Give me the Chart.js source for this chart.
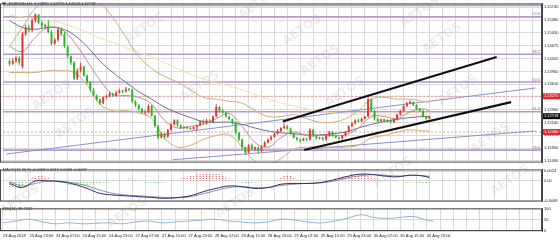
<!DOCTYPE html>
<html lang="en">
<head>
<meta charset="UTF-8">
<title>EURUSD,H1</title>
<style>
  html, body { margin: 0; padding: 0; background: #ffffff; }
  #wrap { position: relative; width: 560px; height: 240px; overflow: hidden; }
  #wrap canvas { position: absolute; left: 0; }
</style>
<script src="https://cdn.jsdelivr.net/npm/chart.js"></script>
</head>
<body>
<div id="wrap">
  <canvas id="main" width="560" height="166" style="top:0px"></canvas>
  <canvas id="macd" width="560" height="39" style="top:166px"></canvas>
  <canvas id="rsi" width="560" height="35" style="top:205px"></canvas>
</div>
<script>
// hourly candles, left to right
const open = [1.1425,1.1417,1.1425,1.1433,1.1409,1.1499,1.1518,1.1510,1.1537,1.1553,
  1.1531,1.1521,1.1523,1.1505,1.1473,1.1484,1.1513,1.1499,1.1465,1.1438,
  1.1420,1.1377,1.1398,1.1409,1.1385,1.1366,1.1345,1.1329,1.1319,1.1308,
  1.1324,1.1327,1.1335,1.1329,1.1337,1.1343,1.1340,1.1348,1.1345,1.1313,
  1.1303,1.1292,1.1281,1.1284,1.1300,1.1273,1.1244,1.1212,1.1223,1.1215,
  1.1234,1.1249,1.1260,1.1247,1.1239,1.1242,1.1239,1.1236,1.1242,1.1247,
  1.1257,1.1252,1.1260,1.1255,1.1271,1.1297,1.1287,1.1281,1.1271,1.1263,
  1.1255,1.1226,1.1207,1.1186,1.1172,1.1191,1.1180,1.1186,1.1175,1.1188,
  1.1199,1.1207,1.1215,1.1223,1.1231,1.1239,1.1244,1.1236,1.1223,1.1212,
  1.1207,1.1204,1.1210,1.1207,1.1234,1.1218,1.1210,1.1212,1.1207,1.1218,
  1.1228,1.1218,1.1212,1.1210,1.1218,1.1228,1.1244,1.1252,1.1260,1.1257,
  1.1265,1.1271,1.1319,1.1287,1.1265,1.1257,1.1263,1.1257,1.1260,1.1255,
  1.1263,1.1276,1.1287,1.1300,1.1308,1.1311,1.1303,1.1292,1.1287,1.1271,
  1.1265];
const close = [1.1417,1.1425,1.1433,1.1420,1.1499,1.1518,1.1510,1.1537,1.1553,1.1531,
  1.1521,1.1523,1.1505,1.1473,1.1484,1.1513,1.1499,1.1465,1.1438,1.1420,
  1.1377,1.1398,1.1409,1.1385,1.1366,1.1345,1.1329,1.1319,1.1308,1.1324,
  1.1327,1.1335,1.1329,1.1337,1.1343,1.1340,1.1348,1.1345,1.1313,1.1303,
  1.1292,1.1281,1.1284,1.1300,1.1273,1.1244,1.1212,1.1223,1.1215,1.1234,
  1.1249,1.1260,1.1247,1.1239,1.1242,1.1239,1.1236,1.1242,1.1247,1.1257,
  1.1252,1.1260,1.1255,1.1271,1.1297,1.1287,1.1281,1.1271,1.1263,1.1255,
  1.1226,1.1207,1.1186,1.1172,1.1191,1.1180,1.1186,1.1175,1.1188,1.1199,
  1.1207,1.1215,1.1223,1.1231,1.1239,1.1244,1.1236,1.1223,1.1212,1.1207,
  1.1204,1.1210,1.1207,1.1234,1.1218,1.1210,1.1212,1.1207,1.1218,1.1228,
  1.1218,1.1212,1.1210,1.1218,1.1228,1.1244,1.1252,1.1260,1.1257,1.1265,
  1.1271,1.1319,1.1287,1.1265,1.1257,1.1263,1.1257,1.1260,1.1255,1.1263,
  1.1276,1.1287,1.1300,1.1308,1.1311,1.1303,1.1292,1.1287,1.1271,1.1265,
  1.12718];
const high = [1.1430,1.1433,1.1438,1.1438,1.1505,1.1526,1.1526,1.1542,1.1558,1.1555,
  1.1537,1.1529,1.1539,1.1510,1.1489,1.1518,1.1518,1.1505,1.1468,1.1441,
  1.1425,1.1404,1.1420,1.1412,1.1388,1.1369,1.1350,1.1332,1.1321,1.1327,
  1.1332,1.1340,1.1337,1.1343,1.1348,1.1345,1.1353,1.1350,1.1348,1.1316,
  1.1305,1.1295,1.1289,1.1305,1.1303,1.1276,1.1247,1.1228,1.1226,1.1236,
  1.1252,1.1263,1.1263,1.1249,1.1244,1.1244,1.1242,1.1244,1.1249,1.1260,
  1.1263,1.1265,1.1263,1.1273,1.1305,1.1300,1.1292,1.1284,1.1273,1.1265,
  1.1257,1.1228,1.1210,1.1188,1.1194,1.1196,1.1188,1.1188,1.1191,1.1202,
  1.1210,1.1218,1.1226,1.1236,1.1242,1.1252,1.1247,1.1239,1.1226,1.1215,
  1.1210,1.1212,1.1212,1.1239,1.1236,1.1220,1.1215,1.1215,1.1220,1.1231,
  1.1231,1.1220,1.1215,1.1220,1.1231,1.1247,1.1255,1.1263,1.1265,1.1268,
  1.1273,1.1324,1.1321,1.1289,1.1268,1.1265,1.1265,1.1263,1.1263,1.1265,
  1.1279,1.1289,1.1303,1.1311,1.1316,1.1313,1.1305,1.1295,1.1289,1.1273,
  1.1273];
const low = [1.1412,1.1414,1.1420,1.1414,1.1404,1.1494,1.1505,1.1505,1.1531,1.1526,
  1.1515,1.1515,1.1502,1.1468,1.1470,1.1478,1.1494,1.1460,1.1433,1.1414,
  1.1372,1.1372,1.1393,1.1380,1.1361,1.1340,1.1327,1.1313,1.1303,1.1305,
  1.1321,1.1324,1.1324,1.1327,1.1335,1.1335,1.1337,1.1340,1.1308,1.1297,
  1.1287,1.1279,1.1276,1.1279,1.1271,1.1239,1.1207,1.1210,1.1207,1.1212,
  1.1231,1.1247,1.1242,1.1236,1.1236,1.1234,1.1234,1.1234,1.1231,1.1244,
  1.1249,1.1249,1.1252,1.1252,1.1268,1.1281,1.1279,1.1268,1.1260,1.1249,
  1.1220,1.1202,1.1180,1.1164,1.1170,1.1178,1.1175,1.1167,1.1172,1.1186,
  1.1196,1.1204,1.1212,1.1220,1.1228,1.1236,1.1234,1.1220,1.1210,1.1202,
  1.1199,1.1202,1.1202,1.1204,1.1215,1.1207,1.1207,1.1204,1.1204,1.1215,
  1.1215,1.1210,1.1207,1.1207,1.1215,1.1226,1.1242,1.1249,1.1255,1.1255,
  1.1263,1.1268,1.1284,1.1260,1.1252,1.1255,1.1255,1.1255,1.1252,1.1252,
  1.1260,1.1273,1.1284,1.1297,1.1305,1.1300,1.1289,1.1284,1.1268,1.1260,
  1.1263];

// indicator lines, read every 4 bars
const lineIdx = [0,4,8,12,16,20,24,28,32,36,40,44,48,52,56,60,64,68,72,76,80,84,88,92,96,100,104,108,112,116,120,124,128,130];
const maFast = [1.1465,1.1452,1.1491,1.1518,1.1513,1.1478,1.1425,1.1372,1.1332,1.1329,1.1324,1.1305,1.1260,1.1239,1.1244,1.1249,1.1265,1.1279,1.1244,1.1199,1.1186,1.1212,1.1228,1.1218,1.1218,1.1218,1.1220,1.1239,1.1271,1.1271,1.1265,1.1284,1.1292,1.1287];
const maSlow = [1.1537,1.1518,1.1513,1.1518,1.1515,1.1497,1.1465,1.1425,1.1393,1.1366,1.1340,1.1319,1.1297,1.1281,1.1268,1.1257,1.1255,1.1255,1.1249,1.1239,1.1231,1.1226,1.1223,1.1220,1.1220,1.1223,1.1228,1.1239,1.1249,1.1257,1.1263,1.1268,1.1271,1.1271];
const bandUpper = [1.1465,1.1518,1.1571,1.1590,1.1595,1.1593,1.1590,1.1585,1.1545,1.1491,1.1438,1.1404,1.1382,1.1366,1.1345,1.1324,1.1319,1.1313,1.1308,1.1287,1.1271,1.1271,1.1276,1.1265,1.1255,1.1255,1.1265,1.1287,1.1319,1.1324,1.1319,1.1319,1.1313,1.1311];
const bandMid = [1.1553,1.1547,1.1542,1.1537,1.1531,1.1518,1.1505,1.1489,1.1476,1.1462,1.1449,1.1436,1.1420,1.1404,1.1388,1.1375,1.1364,1.1356,1.1345,1.1332,1.1319,1.1308,1.1300,1.1292,1.1287,1.1281,1.1279,1.1276,1.1276,1.1276,1.1276,1.1276,1.1276,1.1276];
const bandLower = [1.1393,1.1393,1.1393,1.1398,1.1398,1.1393,1.1358,1.1305,1.1287,1.1287,1.1281,1.1265,1.1212,1.1186,1.1191,1.1207,1.1218,1.1220,1.1186,1.1146,1.1138,1.1154,1.1180,1.1186,1.1186,1.1186,1.1186,1.1191,1.1212,1.1218,1.1228,1.1234,1.1231,1.1231];

// levels and drawn lines (bar index, price)
const fiboLevels = [1.15793, 1.15474, 1.14437, 1.13665, 1.12841, 1.11777];
const fiboNames = ['', '23.6', '38.2', '50.0', '61.8', '78.6'];
const redLevels = [1.13270, 1.12280];
const lastPrice = 1.12718;
const trendLines = [[-0.9, 1.1167, 162.8, 1.1350], [50.5, 1.1151, 162.8, 1.1231]];
const channelLines = [[84.6, 1.1257, 150.8, 1.1436], [91.2, 1.1178, 155.3, 1.1311]];
const priceTicks = [1.15740, 1.15380, 1.15030, 1.14675, 1.14320, 1.13960, 1.13610, 1.13255, 1.12900, 1.12540, 1.12190, 1.11830, 1.11480];

// MACD(12,26,9)
const macdHist = [-0.0014,-0.0016,-0.0018,-0.0016,-0.0012,-0.0006,
  0.0004,0.0008,0.0010,0.0012,0.0012,0.0010,0.0008,0.0004,
  -0.0002,-0.0004,-0.0006,-0.0008,-0.0010,-0.0010,-0.0012,-0.0012,-0.0012,-0.0010,-0.0010,-0.0008,-0.0008,-0.0006,-0.0006,-0.0004,-0.0004,-0.0004,-0.0002,-0.0002,-0.0002,-0.0002,
  0.0004,0.0006,0.0006,0.0004,
  -0.0002,-0.0002,-0.0004,-0.0004,-0.0004,-0.0006,-0.0006,-0.0004,-0.0004,-0.0002,-0.0002,
  0.0002,0.0004,0.0006,0.0008,0.0010,0.0012,0.0014,0.0016,0.0018,0.0018,0.0020,0.0020,0.0020,0.0018,0.0016,0.0014,0.0010,0.0006,0.0002,
  -0.0002,-0.0004,-0.0004,-0.0006,-0.0006,-0.0004,-0.0004,-0.0004,-0.0002,-0.0002,-0.0002,-0.0002,0.0002,0.0004,
  0.0008,0.0012,0.0014,0.0012,0.0008,0.0004,0.0002,
  0.0002,-0.0002,0.0002,0.0002,-0.0002,0.0002,0.0002,0.0002,-0.0002,0.0004,0.0006,0.0008,0.0010,
  0.0012,0.0014,0.0016,0.0018,0.0020,0.0020,0.0018,0.0014,0.0010,
  0.0006,0.0004,0.0004,0.0002,0.0002,0.0004,0.0004,0.0002,-0.0002,-0.0002,-0.0004,-0.0004,-0.0004,-0.0004,-0.0006,-0.0006,-0.0006,-0.0004];
const macdMain = [-0.0006,-0.0016,0.0000,0.0000,-0.0002,-0.0008,-0.0018,-0.0030,-0.0034,-0.0036,-0.0038,-0.0040,-0.0042,-0.0040,-0.0036,-0.0026,-0.0018,-0.0012,-0.0014,-0.0018,-0.0016,-0.0008,-0.0006,-0.0006,-0.0004,0.0002,0.0010,0.0016,0.0016,0.0012,0.0010,0.0014,0.0012,0.0008];
const macdSignal = [-0.0002,-0.0012,-0.0006,0.0000,-0.0001,-0.0005,-0.0012,-0.0022,-0.0030,-0.0034,-0.0036,-0.0038,-0.0040,-0.0041,-0.0038,-0.0031,-0.0023,-0.0016,-0.0014,-0.0016,-0.0016,-0.0011,-0.0008,-0.0006,-0.0005,-0.0001,0.0006,0.0012,0.0015,0.0014,0.0012,0.0013,0.0013,0.0011];
const macdTicks = [0.0024, 0, -0.0048];

// RSI(14)
const rsi = [36,44,52,40,32,36,32,34,36,32,40,44,36,40,44,48,52,44,40,36,40,52,48,40,36,44,56,72,60,56,60,64,48,44];
const rsiTicks = [100, 70, 50, 30, 0];

// time axis, one label every 8 bars
const dateLabels = ['23 Aug 2018','23 Aug 23:00','24 Aug 07:00','24 Aug 15:00','24 Aug 23:00','27 Aug 07:00','27 Aug 15:00','27 Aug 23:00','28 Aug 07:00','28 Aug 15:00','28 Aug 23:00','29 Aug 07:00','29 Aug 15:00','29 Aug 23:00','30 Aug 07:00','30 Aug 15:00','30 Aug 23:00'];

const X_MIN = -0.9, X_MAX = 162.8;
const GRID = '#dadada';
const RED = '#e53935', GREEN = '#2db52d';
const FONT = {family: 'Liberation Sans', size: 4};
const gridIdx = [];
for (let v = 0; v <= 160; v += 4) gridIdx.push(v);

// watermark spots (page pixels)
const marks = [[145,28],[258,4],[302,30],[320,60],[420,12],[442,38],[52,95],[75,123],[200,86],[345,92],[458,90],[490,138],[20,200],[127,213],[235,203],[393,172],[510,180]];

function drawMarks(chart, offsetY) {
  const ctx = chart.ctx;
  ctx.save();
  ctx.font = 'bold 12px "DejaVu Sans"';
  ctx.fillStyle = 'rgba(140,140,140,0.16)';
  ctx.textAlign = 'center';
  ctx.textBaseline = 'middle';
  marks.forEach(([x, y]) => {
    ctx.save();
    ctx.translate(x, y - offsetY);
    ctx.rotate(-0.6);
    ctx.fillText('AETOS', 0, 0);
    ctx.restore();
  });
  ctx.restore();
}

function frame(chart) {
  const {ctx, chartArea: a} = chart;
  ctx.save();
  ctx.strokeStyle = '#4a4a4a';
  ctx.lineWidth = 1;
  ctx.strokeRect(a.left + 0.5, a.top + 0.5, a.right - a.left - 1, a.bottom - a.top - 1);
  ctx.restore();
}

function text(ctx, s, x, y, color, align) {
  ctx.fillStyle = color;
  ctx.textAlign = align || 'left';
  ctx.textBaseline = 'middle';
  ctx.font = '4px "Liberation Sans"';
  ctx.fillText(s, x, y);
}

function xScale(showLabels) {
  return {
    type: 'linear', min: X_MIN, max: X_MAX,
    afterBuildTicks: s => { s.ticks = gridIdx.map(v => ({value: v})); },
    afterFit: s => { s.height = showLabels ? 9 : 0; },
    grid: {color: GRID, drawTicks: false},
    border: {display: false},
    ticks: {
      display: showLabels, autoSkip: false, maxRotation: 0, minRotation: 0,
      padding: 2, align: 'start', font: FONT, color: '#222',
      callback: v => (v % 8 === 0 && dateLabels[v / 8]) || ''
    }
  };
}

function yScale(min, max, vals, fmt) {
  return {
    position: 'right', min, max,
    afterBuildTicks: s => { s.ticks = vals.map(v => ({value: v})); },
    afterFit: s => { s.width = 18; },
    grid: {color: GRID, tickLength: 1, tickColor: '#444'},
    border: {color: '#444'},
    ticks: {padding: 1, font: FONT, color: '#222', callback: fmt}
  };
}

function lineSet(xs, ys, color, order, width) {
  return {
    type: 'line', order,
    data: xs.map((x, k) => ({x, y: ys[k]})),
    borderColor: color, borderWidth: width || 1,
    pointRadius: 0, tension: 0.4, fill: false
  };
}

function segSet(seg, color, order, width, dash) {
  return {
    type: 'line', order,
    data: [{x: seg[0], y: seg[1]}, {x: seg[2], y: seg[3]}],
    borderColor: color, borderWidth: width, borderDash: dash || [],
    pointRadius: 0, tension: 0, fill: false
  };
}

function dotted(color) {
  const c = document.createElement('canvas');
  c.width = 1; c.height = 2;
  const g = c.getContext('2d');
  g.fillStyle = color;
  g.fillRect(0, 0, 1, 1);
  return g.createPattern(c, 'repeat');
}

const candleColors = open.map((o, i) => close[i] >= o ? RED : GREEN);
const common = {
  responsive: false, animation: false, events: [],
  layout: {padding: 0},
  plugins: {legend: {display: false}, tooltip: {enabled: false}}
};

// main price panel
const mainSets = [];
channelLines.forEach(s => mainSets.push(segSet(s, '#111111', 0, 2.2)));
mainSets.push({
  type: 'bar', order: 1, grouped: false,
  data: open.map((o, i) => ({x: i, y: [o, close[i]]})),
  backgroundColor: candleColors, barThickness: 2, minBarLength: 1, inflateAmount: 0
});
mainSets.push({
  type: 'bar', order: 2, grouped: false,
  data: open.map((o, i) => ({x: i, y: [low[i], high[i]]})),
  backgroundColor: candleColors, barThickness: 1, inflateAmount: 0
});
mainSets.push(lineSet(lineIdx, maFast, '#c08a8c', 3));
mainSets.push(lineSet(lineIdx, maSlow, '#6e6e8e', 3));
mainSets.push(lineSet(lineIdx, bandUpper, '#cdb072', 4));
mainSets.push(lineSet(lineIdx, bandMid, '#ece3a6', 4));
mainSets.push(lineSet(lineIdx, bandLower, '#cdb072', 4));
trendLines.forEach(s => mainSets.push(segSet(s, '#8e8ed2', 5, 1)));
redLevels.forEach(p => mainSets.push(segSet([-2, p, 170, p], '#e49a9a', 6, 1, [2, 2])));
fiboLevels.forEach(p => mainSets.push(segSet([-2, p, 170, p], '#b79ac6', 7, 1.6)));

const mainPlugin = {
  id: 'mainDeco',
  beforeDatasetsDraw: c => drawMarks(c, 0),
  afterDraw(c) {
    const {ctx, chartArea: a, scales} = c;
    const y = scales.y;
    ctx.save();
    fiboLevels.forEach((p, k) => {
      if (fiboNames[k]) text(ctx, fiboNames[k], a.right - 2, y.getPixelForValue(p) - 2.5, '#8a6a9a', 'right');
    });
    const tag = (p, bg) => {
      const py = y.getPixelForValue(p);
      ctx.fillStyle = bg;
      ctx.fillRect(a.right + 1, py - 3, 17, 6);
      text(ctx, p.toFixed(5), a.right + 2, py, '#ffffff');
    };
    redLevels.forEach(p => tag(p, '#e8262b'));
    tag(lastPrice, '#111111');
    ctx.fillStyle = '#222';
    ctx.beginPath();
    ctx.moveTo(2, 2.5); ctx.lineTo(6, 2.5); ctx.lineTo(4, 5); ctx.closePath();
    ctx.fill();
    text(ctx, 'EURUSD,H1  1.12820 1.12759 1.12624 1.12718', 9, 4, '#222');
    ctx.restore();
    frame(c);
  }
};

new Chart(document.getElementById('main'), {
  type: 'bar',
  data: {datasets: mainSets},
  options: Object.assign({}, common, {
    scales: {
      x: xScale(false),
      y: yScale(1.114308, 1.158464, priceTicks, v => v.toFixed(5))
    }
  }),
  plugins: [mainPlugin]
});

// MACD panel
const redDots = dotted('#d9534f');
const greenDots = dotted('#4cbf4c');
new Chart(document.getElementById('macd'), {
  type: 'bar',
  data: {datasets: [
    lineSet(lineIdx, macdMain, '#2c2c66', 0),
    lineSet(lineIdx, macdSignal, '#8a8ab4', 1),
    {
      type: 'bar', order: 2, grouped: false,
      data: macdHist.map((v, i) => ({x: i, y: v})),
      backgroundColor: macdHist.map(v => v >= 0 ? redDots : greenDots),
      barThickness: 1, inflateAmount: 0
    }
  ]},
  options: Object.assign({}, common, {
    scales: {
      x: xScale(false),
      y: yScale(-0.0050, 0.0028, macdTicks, v => v === 0 ? '0.00' : v.toFixed(4))
    }
  }),
  plugins: [{
    id: 'macdDeco',
    beforeDatasetsDraw: c => drawMarks(c, 166),
    afterDraw(c) {
      text(c.ctx, 'MACD(12,26,9) -0.0008 0.0012 0.0006 -0.0007', 3, 4, '#222');
      frame(c);
    }
  }]
});

// RSI panel with the time axis
new Chart(document.getElementById('rsi'), {
  type: 'line',
  data: {datasets: [lineSet(lineIdx, rsi, '#8fb4d6', 0)]},
  options: Object.assign({}, common, {
    scales: {
      x: xScale(true),
      y: yScale(0, 100, rsiTicks, v => String(v))
    }
  }),
  plugins: [{
    id: 'rsiDeco',
    beforeDatasetsDraw: c => drawMarks(c, 205),
    afterDraw(c) {
      text(c.ctx, 'RSI(14) 38.2522', 3, 4, '#222');
      frame(c);
    }
  }]
});
</script>
</body>
</html>
